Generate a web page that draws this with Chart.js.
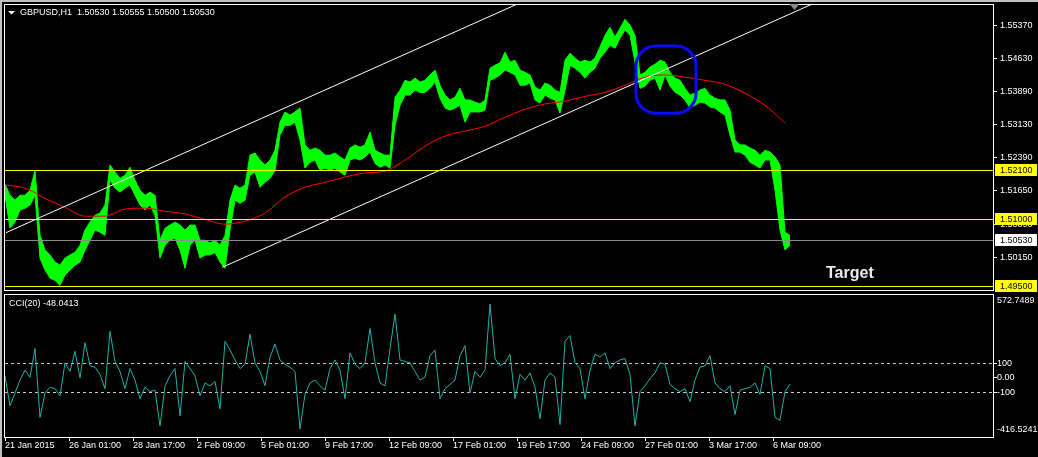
<!DOCTYPE html>
<html>
<head>
<meta charset="utf-8">
<title>GBPUSD H1</title>
<script src="https://cdn.jsdelivr.net/npm/chart.js"></script>
<style>
  html, body { margin: 0; padding: 0; background: #000; }
  #wrap { position: relative; width: 1038px; height: 457px; overflow: hidden; background: #000; }
  canvas { position: absolute; left: 0; }
  #main { top: 0; }
  #cci { top: 292px; }
</style>
</head>
<body>
<div id="wrap">
  <canvas id="main" width="1038" height="292"></canvas>
  <canvas id="cci" width="1038" height="165"></canvas>
</div>
<script>
const BAR_STEP = 5;
const MA_STEP = 20;
const FONT = '9px "Liberation Sans", Arial, sans-serif';

// high / low of each 5-bar block
const priceHigh = [
  1.5179, 1.5154, 1.5143, 1.5154, 1.5154, 1.5165, 1.5210, 1.5064, 1.5031, 1.5020,
  1.5004, 1.4997, 1.5013, 1.5020, 1.5026, 1.5042, 1.5076, 1.5094, 1.5109, 1.5114,
  1.5132, 1.5222, 1.5206, 1.5192, 1.5199, 1.5217, 1.5188, 1.5165, 1.5154, 1.5161,
  1.5154, 1.5053, 1.5080, 1.5087, 1.5094, 1.5087, 1.5076, 1.5087, 1.5087, 1.5053,
  1.5053, 1.5047, 1.5053, 1.5042, 1.5064, 1.5143, 1.5177, 1.5170, 1.5177, 1.5244,
  1.5249, 1.5233, 1.5222, 1.5233, 1.5255, 1.5318, 1.5341, 1.5334, 1.5341, 1.5350,
  1.5267, 1.5255, 1.5260, 1.5255, 1.5244, 1.5244, 1.5249, 1.5240, 1.5233, 1.5260,
  1.5267, 1.5262, 1.5267, 1.5296, 1.5255, 1.5249, 1.5244, 1.5244, 1.5374, 1.5390,
  1.5412, 1.5408, 1.5417, 1.5408, 1.5412, 1.5424, 1.5435, 1.5401, 1.5379, 1.5368,
  1.5374, 1.5394, 1.5368, 1.5368, 1.5363, 1.5359, 1.5368, 1.5439, 1.5446, 1.5451,
  1.5475, 1.5453, 1.5457, 1.5435, 1.5430, 1.5424, 1.5397, 1.5390, 1.5406, 1.5401,
  1.5390, 1.5385, 1.5457, 1.5473, 1.5462, 1.5453, 1.5457, 1.5453, 1.5462, 1.5487,
  1.5513, 1.5531, 1.5509, 1.5529, 1.5549, 1.5536, 1.5513, 1.5424, 1.5430, 1.5442,
  1.5448, 1.5457, 1.5453, 1.5430, 1.5417, 1.5412, 1.5394, 1.5379, 1.5383, 1.5390,
  1.5394, 1.5379, 1.5372, 1.5368, 1.5368, 1.5345, 1.5278, 1.5267, 1.5267, 1.5260,
  1.5255, 1.5244, 1.5255, 1.5251, 1.5240, 1.5222, 1.5071, 1.5064
];
const priceLow = [
  1.5154, 1.5080, 1.5094, 1.5121, 1.5125, 1.5132, 1.5154, 1.5013, 1.4986, 1.4968,
  1.4963, 1.4952, 1.4975, 1.4986, 1.4997, 1.5004, 1.5031, 1.5053, 1.5076, 1.5071,
  1.5064, 1.5188, 1.5170, 1.5161, 1.5170, 1.5177, 1.5154, 1.5132, 1.5121, 1.5132,
  1.5109, 1.5013, 1.5042, 1.5053, 1.5058, 1.5031, 1.4990, 1.5042, 1.5053, 1.5013,
  1.5020, 1.5020, 1.5026, 1.5004, 1.4990, 1.5076, 1.5143, 1.5136, 1.5143, 1.5199,
  1.5206, 1.5172, 1.5183, 1.5192, 1.5210, 1.5289, 1.5311, 1.5311, 1.5318, 1.5278,
  1.5215, 1.5228, 1.5233, 1.5210, 1.5215, 1.5210, 1.5215, 1.5206, 1.5199, 1.5233,
  1.5237, 1.5233, 1.5240, 1.5251, 1.5226, 1.5217, 1.5222, 1.5215, 1.5311, 1.5356,
  1.5379, 1.5379, 1.5390, 1.5385, 1.5385, 1.5394, 1.5408, 1.5372, 1.5350, 1.5345,
  1.5350, 1.5356, 1.5318, 1.5341, 1.5341, 1.5341, 1.5345, 1.5412, 1.5417, 1.5424,
  1.5435, 1.5430, 1.5424, 1.5401, 1.5401, 1.5406, 1.5368, 1.5361, 1.5379, 1.5372,
  1.5368, 1.5338, 1.5390, 1.5446, 1.5439, 1.5430, 1.5417, 1.5430, 1.5439, 1.5462,
  1.5475, 1.5491, 1.5484, 1.5507, 1.5525, 1.5513, 1.5453, 1.5394, 1.5399, 1.5412,
  1.5417, 1.5390, 1.5424, 1.5399, 1.5385, 1.5379, 1.5368, 1.5350, 1.5356, 1.5363,
  1.5361, 1.5352, 1.5350, 1.5341, 1.5334, 1.5289, 1.5251, 1.5251, 1.5244, 1.5228,
  1.5222, 1.5215, 1.5233, 1.5233, 1.5165, 1.5076, 1.5031, 1.5042
];
// red moving average
const maValues = [
  1.5177, 1.5170, 1.5147, 1.5127, 1.5107, 1.5107, 1.5123, 1.5125, 1.5118, 1.5112,
  1.5100, 1.5089, 1.5096, 1.5114, 1.5150, 1.5172, 1.5183, 1.5195, 1.5204, 1.5208,
  1.5233, 1.5264, 1.5287, 1.5298, 1.5309, 1.5329, 1.5347, 1.5359, 1.5365, 1.5376,
  1.5385, 1.5401, 1.5419, 1.5424, 1.5419, 1.5412, 1.5403, 1.5383, 1.5356, 1.5316
];
// CCI(20)
const cciValues = [
  10, -200, -110, -20, 50, 0, 200, -280, -110, -70,
  -80, -130, 100, 40, 180, -5, 240, 80, 70, 20,
  -80, 320, 110, 40, -80, 60, -20, -150, -70, -100,
  -90, -340, -60, 10, 60, -270, 110, 60, 10, -130,
  -40, -60, -30, -220, 250, 190, 120, 60, 90, 300,
  100, 40, -60, 140, 230, 120, 90, 70, 40, -360,
  -120, -40, -20, -60, -90, 60, 120, 50, -150, 170,
  90, 60, 100, 340, 100, -40, -60, 200, 440, 120,
  110, 100, 40, -20, 0, 150, 190, -150, -80, -50,
  -20, 150, 220, -110, 40, 0, 50, 510, 130, 80,
  100, 160, -150, 20, -20, 30, -70, -290, -20, 30,
  0, -330, 250, 290, 100, 60, -150, 50, 160, 140,
  170, 60, 100, 120, 130, 20, -340, -100, -60, -10,
  30, 100, 90, -50, -80, -100, -80, -170, -20, 70,
  80, 150, -40, -80, -100, -60, -260, -90, -80, -70,
  -40, -120, 80, 60, -280, -300, -100, -48.0413
];

const priceTicks = [1.55370, 1.54630, 1.53890, 1.53130, 1.52390, 1.51650, 1.50890, 1.50150];
const levelLines = [1.52100, 1.51000, 1.49500];
const bidPrice = 1.50530;
const priceMin = 1.49413, priceMax = 1.55811;

const cciMin = -416.5241, cciMax = 572.7489;
const cciLevels = [100, -100];
const cciTickLabels = [[100, '100'], [0, '0.00'], [-100, '-100']];

const timeLabels = ['21 Jan 2015', '26 Jan 01:00', '28 Jan 17:00', '2 Feb 09:00', '5 Feb 01:00',
  '9 Feb 17:00', '12 Feb 09:00', '17 Feb 01:00', '19 Feb 17:00', '24 Feb 09:00',
  '27 Feb 01:00', '3 Mar 17:00', '6 Mar 09:00'];
const barsPerLabel = 64;
const lastBar = 988;

// drawn objects, anchored in (bar, price)
const upperChannel = [[1, 1.5070], [520, 1.5591]];
const lowerChannel = [[217, 1.4992], [820, 1.5596]];
const markBox = { fromBar: 631, toBar: 691, high: 1.5489, low: 1.5338 };
const targetNote = { bar: 821, price: 1.4969 };
const shiftBar = 789;

const toPoints = (arr, step) => arr.map((v, i) => ({ x: i * step, y: v }));
const toLine = pts => pts.map(p => ({ x: p[0], y: p[1] }));

function roundBox(ctx, x, y, w, h, r) {
  ctx.beginPath();
  ctx.moveTo(x + r, y);
  ctx.arcTo(x + w, y, x + w, y + h, r);
  ctx.arcTo(x + w, y + h, x, y + h, r);
  ctx.arcTo(x, y + h, x, y, r);
  ctx.arcTo(x, y, x + w, y, r);
  ctx.closePath();
}

function frame(ctx, a) {
  ctx.strokeStyle = '#ffffff';
  ctx.lineWidth = 1;
  ctx.strokeRect(a.left - 0.5, a.top - 0.5, a.right - a.left + 1, a.bottom - a.top + 1);
}

function hLine(ctx, a, py, color) {
  ctx.strokeStyle = color;
  ctx.beginPath();
  ctx.moveTo(a.left, py + 0.5);
  ctx.lineTo(a.right, py + 0.5);
  ctx.stroke();
}

function priceBox(ctx, chart, v, bg) {
  const a = chart.chartArea;
  const py = Math.round(chart.scales.y.getPixelForValue(v));
  ctx.fillStyle = bg;
  ctx.fillRect(a.right + 2, py - 6, chart.width - a.right - 3, 12);
  ctx.fillStyle = '#000000';
  ctx.fillText(v.toFixed(5), a.right + 7, py + 0.5);
}

const mainDecor = {
  id: 'mainDecor',
  afterDatasetsDraw(chart) {
    const { ctx, chartArea: a } = chart;
    const x = chart.scales.x, y = chart.scales.y;
    ctx.save();
    ctx.beginPath();
    ctx.rect(a.left, a.top, a.right - a.left, a.bottom - a.top);
    ctx.clip();
    ctx.lineWidth = 1;
    hLine(ctx, a, Math.round(y.getPixelForValue(bidPrice)), '#8c8c8c');
    levelLines.forEach(v => hLine(ctx, a, Math.round(y.getPixelForValue(v)), '#ffff00'));

    // blue box round the retest of the channel
    const bx1 = x.getPixelForValue(markBox.fromBar), bx2 = x.getPixelForValue(markBox.toBar);
    const by1 = y.getPixelForValue(markBox.high), by2 = y.getPixelForValue(markBox.low);
    ctx.strokeStyle = '#0a0aff';
    ctx.lineWidth = 3;
    roundBox(ctx, bx1, by1, bx2 - bx1, by2 - by1, 20);
    ctx.stroke();

    ctx.fillStyle = '#ececec';
    ctx.font = 'bold 16px "Liberation Sans", Arial, sans-serif';
    ctx.textBaseline = 'alphabetic';
    ctx.fillText('Target', x.getPixelForValue(targetNote.bar), y.getPixelForValue(targetNote.price));
    ctx.restore();
  },
  afterDraw(chart) {
    const { ctx, chartArea: a } = chart;
    const x = chart.scales.x, y = chart.scales.y;
    ctx.save();
    ctx.fillStyle = '#c0c0c0';
    ctx.fillRect(0, 0, chart.width, 2);
    ctx.fillRect(0, 0, 2, chart.height);
    frame(ctx, a);

    // chart shift marker
    const sx = Math.round(x.getPixelForValue(shiftBar)) + 0.5;
    ctx.fillStyle = '#8a8a8a';
    ctx.beginPath();
    ctx.moveTo(sx - 5, a.top - 1);
    ctx.lineTo(sx + 5, a.top - 1);
    ctx.lineTo(sx, a.top + 5);
    ctx.closePath();
    ctx.fill();

    ctx.font = FONT;
    ctx.textBaseline = 'middle';
    ctx.textAlign = 'left';
    priceTicks.forEach(v => {
      const py = Math.round(y.getPixelForValue(v));
      ctx.fillStyle = '#ffffff';
      ctx.fillRect(a.right + 1, py, 3, 1);
      ctx.fillText(v.toFixed(5), a.right + 7, py + 0.5);
    });
    levelLines.forEach(v => priceBox(ctx, chart, v, '#ffff00'));
    priceBox(ctx, chart, bidPrice, '#ffffff');

    // header
    ctx.fillStyle = '#ffffff';
    ctx.beginPath();
    ctx.moveTo(8, 11);
    ctx.lineTo(15, 11);
    ctx.lineTo(11.5, 14.5);
    ctx.closePath();
    ctx.fill();
    ctx.fillText('GBPUSD,H1  1.50530 1.50555 1.50500 1.50530', 20, 13);
    ctx.restore();
  }
};

const cciDecor = {
  id: 'cciDecor',
  beforeDatasetsDraw(chart) {
    const { ctx, chartArea: a } = chart;
    const y = chart.scales.y;
    ctx.save();
    ctx.setLineDash([3, 3]);
    ctx.lineWidth = 1;
    cciLevels.forEach(v => hLine(ctx, a, Math.round(y.getPixelForValue(v)), '#c8c8c8'));
    ctx.restore();
  },
  afterDraw(chart) {
    const { ctx, chartArea: a } = chart;
    const x = chart.scales.x, y = chart.scales.y;
    ctx.save();
    ctx.fillStyle = '#c0c0c0';
    ctx.fillRect(0, 0, 2, chart.height);
    frame(ctx, a);
    ctx.font = FONT;
    ctx.fillStyle = '#ffffff';
    ctx.textBaseline = 'middle';
    ctx.fillText('CCI(20) -48.0413', 9, 12);

    ctx.fillText(cciMax.toFixed(4), a.right + 4, a.top + 6);
    ctx.fillText(cciMin.toFixed(4), a.right + 4, a.bottom - 7);
    cciTickLabels.forEach(([v, txt]) => {
      const py = Math.round(y.getPixelForValue(v));
      ctx.fillRect(a.right + 1, py, 3, 1);
      ctx.fillText(txt, a.right + 4, py + 0.5);
    });

    timeLabels.forEach((txt, i) => {
      const px = Math.round(x.getPixelForValue(i * barsPerLabel));
      ctx.fillRect(px, a.bottom + 1, 1, 3);
      ctx.fillText(txt, px, a.bottom + 9);
    });
    ctx.restore();
  }
};

const common = {
  responsive: false,
  animation: false,
  devicePixelRatio: 1,
  events: [],
  plugins: { legend: { display: false }, tooltip: { enabled: false } },
  elements: { point: { radius: 0 }, line: { tension: 0 } }
};

new Chart(document.getElementById('main'), {
  type: 'line',
  data: {
    datasets: [
      { data: toLine(upperChannel), borderColor: '#ffffff', borderWidth: 1 },
      { data: toLine(lowerChannel), borderColor: '#ffffff', borderWidth: 1 },
      { data: toPoints(maValues, MA_STEP), borderColor: '#ff0000', borderWidth: 1, cubicInterpolationMode: 'monotone' },
      { data: toPoints(priceHigh, BAR_STEP), borderColor: '#00ff00', borderWidth: 1 },
      { data: toPoints(priceLow, BAR_STEP), borderColor: '#00ff00', borderWidth: 1, fill: '-1', backgroundColor: '#00ff00' }
    ]
  },
  options: {
    ...common,
    layout: { padding: { left: 5, top: 5, right: 45, bottom: 2 } },
    scales: {
      x: { type: 'linear', display: false, min: 0, max: lastBar },
      y: { display: false, min: priceMin, max: priceMax }
    }
  },
  plugins: [mainDecor]
});

new Chart(document.getElementById('cci'), {
  type: 'line',
  data: {
    datasets: [
      { data: toPoints(cciValues, BAR_STEP), borderColor: '#20b2aa', borderWidth: 1 }
    ]
  },
  options: {
    ...common,
    layout: { padding: { left: 5, top: 3, right: 45, bottom: 20 } },
    scales: {
      x: { type: 'linear', display: false, min: 0, max: lastBar },
      y: { display: false, min: cciMin, max: cciMax }
    }
  },
  plugins: [cciDecor]
});
</script>
</body>
</html>
